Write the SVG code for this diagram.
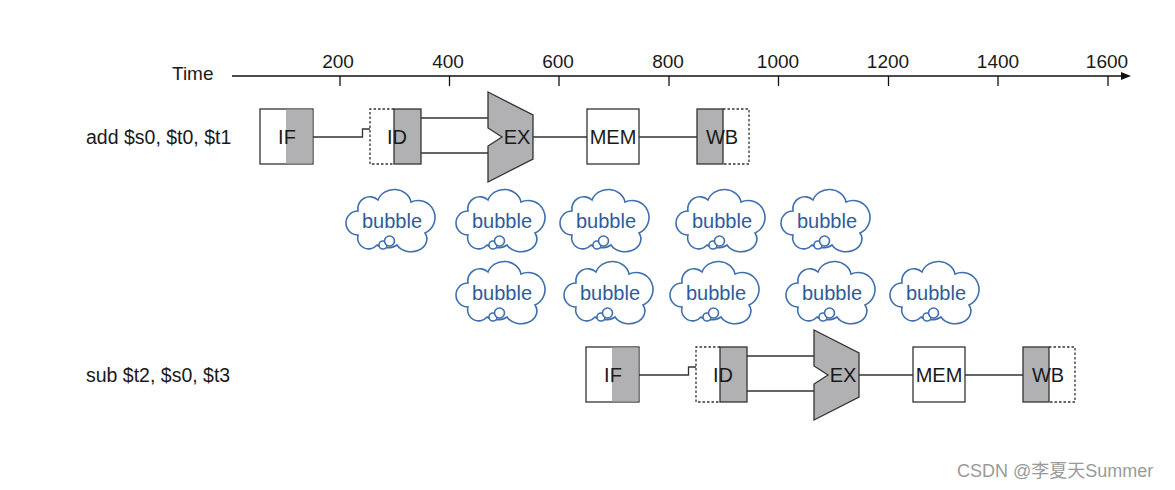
<svg xmlns="http://www.w3.org/2000/svg" xmlns:xlink="http://www.w3.org/1999/xlink" width="1175" height="490" viewBox="0 0 1175 490">
<style>
text{font-family:"Liberation Sans",Arial,Helvetica,sans-serif;font-size:19px;fill:#1a1a1a}
.mid{text-anchor:middle}
.st{font-size:20px}
.lb{font-size:19.5px}
.box{fill:#fff;stroke:#333;stroke-width:1.3}
.gray{fill:#b1b1b3;stroke:#333;stroke-width:1.3}
.dash{fill:none;stroke:#333;stroke-width:1.3;stroke-dasharray:2.5,2}
.wire{fill:none;stroke:#333;stroke-width:1.3}
.cl{fill:#fff;stroke:#3f6fae;stroke-width:1.6}
.bt{fill:#2c5c9c;text-anchor:middle;font-size:20px}
.wm{font-family:"Liberation Sans",Arial,"Noto Sans CJK SC",sans-serif;font-size:18px;fill:#9a9a9a}
</style>
<defs>
<g id="cloud">
<path class="cl" d="M-31,16 A12,12 0 0 1 -31,-8 A12,12 0 0 1 -11,-19 A17,15 0 0 1 22,-17 A17,17 0 0 1 36,14 A15,12 0 0 1 8,26 A12,6 0 0 1 -12,26 A11,11 0 0 1 -31,16 Z"/>
<circle class="cl" cx="-6" cy="26" r="4"/>
<circle class="cl" cx="0.5" cy="22" r="5"/>
</g>
<marker id="arr" viewBox="0 0 10 8" refX="0" refY="4" markerWidth="10" markerHeight="8" markerUnits="userSpaceOnUse" orient="auto">
<path d="M0,0 L10,4 L0,8 Z" fill="#111"/>
</marker>
</defs>
<rect width="1175" height="490" fill="#fff"/>

<g id="axis">
<text x="172" y="80">Time</text>
<line x1="232" y1="76" x2="1121" y2="76" stroke="#111" stroke-width="1.3" marker-end="url(#arr)"/>
<g stroke="#111" stroke-width="1.3">
<line x1="340" y1="76" x2="340" y2="86"/>
<line x1="449.5" y1="76" x2="449.5" y2="86"/>
<line x1="559" y1="76" x2="559" y2="86"/>
<line x1="669" y1="76" x2="669" y2="86"/>
<line x1="778.5" y1="76" x2="778.5" y2="86"/>
<line x1="888.5" y1="76" x2="888.5" y2="86"/>
<line x1="998" y1="76" x2="998" y2="86"/>
<line x1="1108" y1="76" x2="1108" y2="86"/>
</g>
<text class="mid" x="338" y="68">200</text>
<text class="mid" x="448" y="68">400</text>
<text class="mid" x="558" y="68">600</text>
<text class="mid" x="668" y="68">800</text>
<text class="mid" x="778" y="68">1000</text>
<text class="mid" x="888" y="68">1200</text>
<text class="mid" x="998" y="68">1400</text>
<text class="mid" x="1107" y="68">1600</text>
</g>

<g id="label-add"><text class="lb" x="86" y="144">add $s0, $t0, $t1</text></g>
<g id="label-sub"><text class="lb" x="86" y="382">sub $t2, $s0, $t3</text></g>

<g id="connectors">
<path class="wire" d="M313,137 H362.5 V129 H370"/>
<path class="wire" d="M421,118 H488 M421,153 H488"/>
<path class="wire" d="M533,137 H587"/>
<path class="wire" d="M639,137 H697"/>
<path class="wire" d="M639,375 H688.5 V367 H696"/>
<path class="wire" d="M747,356 H814 M747,391 H814"/>
<path class="wire" d="M859,375 H913"/>
<path class="wire" d="M965,375 H1023"/>
</g>

<g id="add-IF">
<rect class="box" x="260" y="109" width="53" height="55"/>
<rect x="286" y="109.6" width="26.4" height="53.8" fill="#b1b1b3"/>
<text class="mid st" x="287" y="144">IF</text>
</g>
<g id="add-ID">
<rect class="gray" x="394" y="109" width="27" height="55"/>
<path class="dash" d="M394,109 H370 V164 H394"/>
<text class="mid st" x="397" y="144">ID</text>
</g>
<g id="add-EX">
<polygon class="gray" points="488,92 533,115 533,159 488,182 488,146 502,137 488,128"/>
<text class="mid st" x="517" y="144">EX</text>
</g>
<g id="add-MEM">
<rect class="box" x="587" y="109" width="52" height="55"/>
<text class="mid st" x="613" y="144">MEM</text>
</g>
<g id="add-WB">
<rect class="gray" x="697" y="109" width="26" height="55"/>
<path class="dash" d="M723,109 H749 V164 H723"/>
<text class="mid st" x="722" y="144">WB</text>
</g>

<g id="sub-IF">
<rect class="box" x="586" y="347" width="53" height="55"/>
<rect x="612" y="347.6" width="26.4" height="53.8" fill="#b1b1b3"/>
<text class="mid st" x="613" y="382">IF</text>
</g>
<g id="sub-ID">
<rect class="gray" x="720" y="347" width="27" height="55"/>
<path class="dash" d="M720,347 H696 V402 H720"/>
<text class="mid st" x="723" y="382">ID</text>
</g>
<g id="sub-EX">
<polygon class="gray" points="814,330 859,353 859,397 814,420 814,384 828,375 814,366"/>
<text class="mid st" x="843" y="382">EX</text>
</g>
<g id="sub-MEM">
<rect class="box" x="913" y="347" width="52" height="55"/>
<text class="mid st" x="939" y="382">MEM</text>
</g>
<g id="sub-WB">
<rect class="gray" x="1023" y="347" width="26" height="55"/>
<path class="dash" d="M1049,347 H1075 V402 H1049"/>
<text class="mid st" x="1048" y="382">WB</text>
</g>

<g id="bubble-1-1"><use xlink:href="#cloud" x="389" y="219"/><text class="bt" x="392" y="228">bubble</text></g>
<g id="bubble-1-2"><use xlink:href="#cloud" x="499" y="219"/><text class="bt" x="502" y="228">bubble</text></g>
<g id="bubble-1-3"><use xlink:href="#cloud" x="603" y="219"/><text class="bt" x="606" y="228">bubble</text></g>
<g id="bubble-1-4"><use xlink:href="#cloud" x="719" y="219"/><text class="bt" x="722" y="228">bubble</text></g>
<g id="bubble-1-5"><use xlink:href="#cloud" x="824" y="219"/><text class="bt" x="827" y="228">bubble</text></g>

<g id="bubble-2-1"><use xlink:href="#cloud" x="499" y="291"/><text class="bt" x="502" y="300">bubble</text></g>
<g id="bubble-2-2"><use xlink:href="#cloud" x="607" y="291"/><text class="bt" x="610" y="300">bubble</text></g>
<g id="bubble-2-3"><use xlink:href="#cloud" x="713" y="291"/><text class="bt" x="716" y="300">bubble</text></g>
<g id="bubble-2-4"><use xlink:href="#cloud" x="829" y="291"/><text class="bt" x="832" y="300">bubble</text></g>
<g id="bubble-2-5"><use xlink:href="#cloud" x="933" y="291"/><text class="bt" x="936" y="300">bubble</text></g>

<g id="watermark"><text class="wm" x="957" y="477">CSDN @李夏天Summer</text></g>
</svg>
